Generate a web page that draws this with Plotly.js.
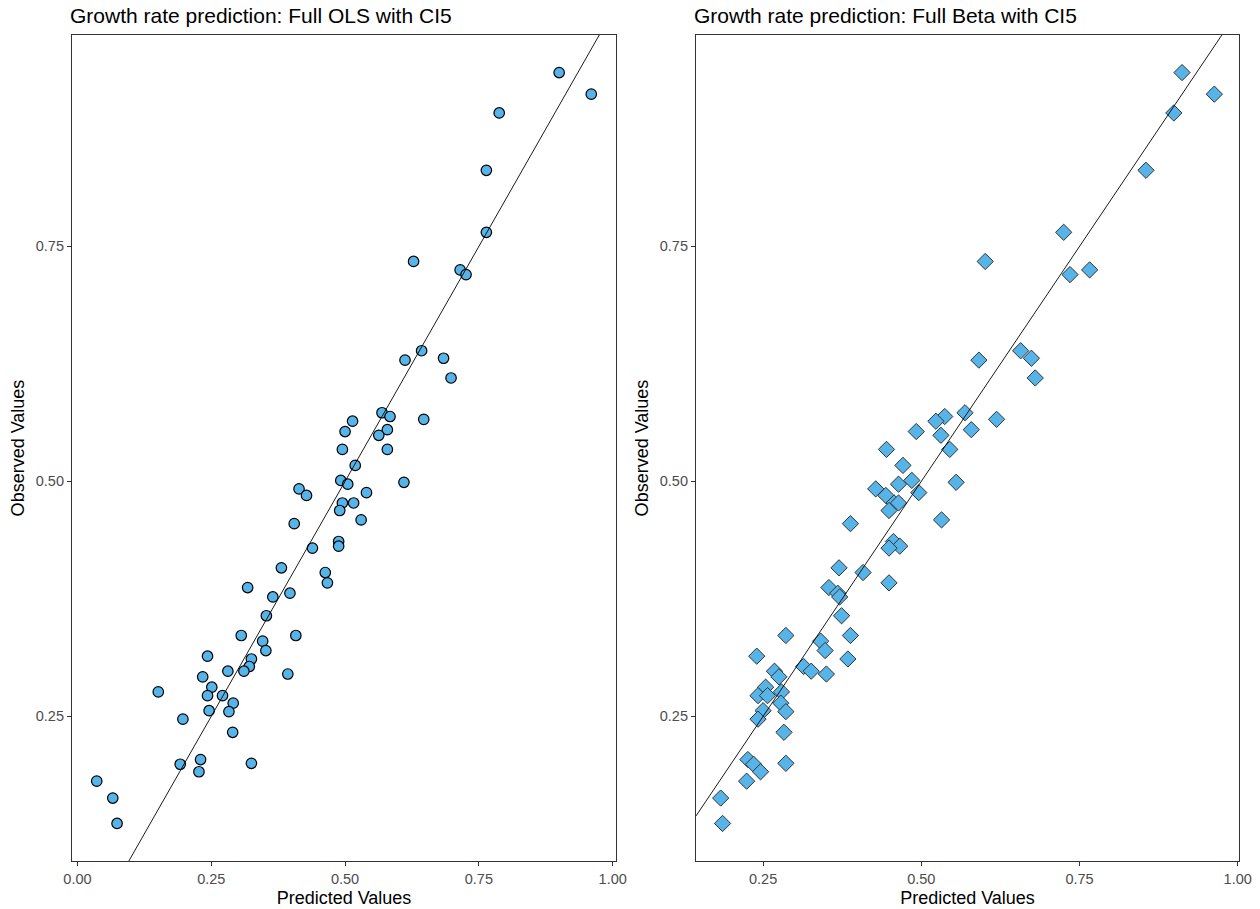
<!DOCTYPE html>
<html>
<head>
<meta charset="utf-8">
<script src="https://cdn.plot.ly/plotly-3.0.1.min.js"></script>
<style>
  html, body { margin: 0; padding: 0; background: #ffffff; }
  #chart { width: 1260px; height: 909px; }
</style>
</head>
<body>
<div id="chart"></div>
<script>
// ---- Data ----
const observed = [0.935,0.912,0.892,0.831,0.765,0.734,0.725,0.720,0.639,0.629,
  0.631,0.610,0.573,0.569,0.566,0.564,0.555,0.553,0.549,0.534,
  0.534,0.517,0.501,0.499,0.497,0.492,0.488,0.485,0.477,0.477,
  0.469,0.459,0.455,0.436,0.431,0.429,0.408,0.403,0.392,0.387,
  0.381,0.377,0.357,0.336,0.336,0.330,0.320,0.314,0.311,0.303,
  0.298,0.298,0.295,0.292,0.281,0.276,0.272,0.272,0.264,0.256,
  0.255,0.247,0.233,0.204,0.200,0.199,0.191,0.181,0.163,0.136];

const predictedOLS = [0.900,0.960,0.788,0.764,0.764,0.628,0.715,0.726,0.643,0.612,
  0.684,0.698,0.569,0.584,0.647,0.514,0.579,0.500,0.563,0.495,
  0.579,0.519,0.492,0.610,0.505,0.414,0.540,0.428,0.495,0.516,
  0.490,0.530,0.405,0.488,0.488,0.439,0.381,0.463,0.467,0.318,
  0.397,0.365,0.353,0.306,0.408,0.346,0.352,0.243,0.325,0.321,
  0.281,0.311,0.393,0.234,0.251,0.151,0.243,0.271,0.291,0.246,
  0.283,0.197,0.290,0.230,0.325,0.192,0.227,0.036,0.066,0.074];

const predictedBeta = [0.912,0.963,0.899,0.855,0.725,0.601,0.766,0.735,0.657,0.591,
  0.674,0.680,0.569,0.537,0.619,0.523,0.579,0.492,0.531,0.445,
  0.545,0.471,0.485,0.555,0.464,0.428,0.496,0.444,0.457,0.464,
  0.449,0.532,0.388,0.456,0.466,0.449,0.370,0.408,0.449,0.354,
  0.368,0.371,0.374,0.286,0.388,0.341,0.348,0.240,0.384,0.314,
  0.268,0.326,0.350,0.275,0.254,0.279,0.242,0.257,0.278,0.250,
  0.286,0.242,0.283,0.226,0.286,0.235,0.246,0.224,0.183,0.186];

const panelTitles = ["Growth rate prediction: Full OLS with CI5",
                     "Growth rate prediction: Full Beta with CI5"];
const xTitle = "Predicted Values";
const yTitle = "Observed Values";
const xTicksLeft = [0, 0.25, 0.5, 0.75, 1.0];
const xTickLabelsLeft = ["0.00", "0.25", "0.50", "0.75", "1.00"];
const xTicksRight = [0.25, 0.5, 0.75, 1.0];
const xTickLabelsRight = ["0.25", "0.50", "0.75", "1.00"];
const yTicks = [0.25, 0.5, 0.75];
const yTickLabels = ["0.25", "0.50", "0.75"];

// ---- helpers ----
function expandRange(arr) {
  const lo = Math.min(...arr), hi = Math.max(...arr);
  const pad = (hi - lo) * 0.05;
  return [lo - pad, hi + pad];
}

const W = 1260, H = 909;
const FONT = "Liberation Sans, Arial, Helvetica, sans-serif";
const fill = "#56B4E9";

const yRange = expandRange(observed);
const xRangeL = expandRange(predictedOLS);
const xRangeR = expandRange(predictedBeta);

const traces = [
  {
    x: predictedOLS, y: observed, type: "scatter", mode: "markers",
    xaxis: "x", yaxis: "y",
    marker: { symbol: "circle", size: 10.5, color: fill, line: { color: "#000000", width: 1.2 } },
    hoverinfo: "x+y", showlegend: false
  },
  {
    x: xRangeL, y: xRangeL, type: "scatter", mode: "lines",
    xaxis: "x", yaxis: "y",
    line: { color: "#000000", width: 0.9 }, hoverinfo: "skip", showlegend: false
  },
  {
    x: predictedBeta, y: observed, type: "scatter", mode: "markers",
    xaxis: "x2", yaxis: "y2",
    marker: { symbol: "diamond", size: 12.5, color: fill, line: { color: "#333333", width: 1 } },
    hoverinfo: "x+y", showlegend: false
  },
  {
    x: xRangeR, y: xRangeR, type: "scatter", mode: "lines",
    xaxis: "x2", yaxis: "y2",
    line: { color: "#000000", width: 0.9 }, hoverinfo: "skip", showlegend: false
  }
];

const yDomain = [1 - 861 / H, 1 - 35 / H];

function axisBase() {
  return {
    showline: true, mirror: true, linecolor: "#333333", linewidth: 1.1,
    ticks: "outside", ticklen: 4, tickwidth: 1, tickcolor: "#333333",
    showgrid: false, zeroline: false,
    tickfont: { family: FONT, size: 14.5, color: "#4D4D4D" },
    automargin: false
  };
}

const layout = {
  width: W, height: H,
  margin: { l: 0, r: 0, t: 0, b: 0 },
  paper_bgcolor: "#ffffff", plot_bgcolor: "#ffffff",
  font: { family: FONT, color: "#000000" },
  showlegend: false,
  xaxis: Object.assign(axisBase(), {
    domain: [72 / W, 616 / W], anchor: "y", range: xRangeL,
    tickmode: "array", tickvals: xTicksLeft, ticktext: xTickLabelsLeft,
    title: { text: xTitle, font: { family: FONT, size: 18, color: "#000000" }, standoff: 5 }
  }),
  yaxis: Object.assign(axisBase(), {
    domain: yDomain, anchor: "x", range: yRange,
    tickmode: "array", tickvals: yTicks, ticktext: yTickLabels,
    title: { text: yTitle, font: { family: FONT, size: 18, color: "#000000" }, standoff: 6 }
  }),
  xaxis2: Object.assign(axisBase(), {
    domain: [696 / W, 1239 / W], anchor: "y2", range: xRangeR,
    tickmode: "array", tickvals: xTicksRight, ticktext: xTickLabelsRight,
    title: { text: xTitle, font: { family: FONT, size: 18, color: "#000000" }, standoff: 5 }
  }),
  yaxis2: Object.assign(axisBase(), {
    domain: yDomain, anchor: "x2", range: yRange,
    tickmode: "array", tickvals: yTicks, ticktext: yTickLabels,
    title: { text: yTitle, font: { family: FONT, size: 18, color: "#000000" }, standoff: 6 }
  }),
  annotations: [
    {
      text: panelTitles[0], xref: "paper", yref: "paper",
      x: 68 / W, xanchor: "left", y: 1 - 16 / H, yanchor: "middle",
      showarrow: false, font: { family: FONT, size: 21, color: "#000000" }
    },
    {
      text: panelTitles[1], xref: "paper", yref: "paper",
      x: 692 / W, xanchor: "left", y: 1 - 16 / H, yanchor: "middle",
      showarrow: false, font: { family: FONT, size: 21, color: "#000000" }
    }
  ]
};

Plotly.newPlot("chart", traces, layout, { displayModeBar: false, staticPlot: true });
</script>
</body>
</html>
